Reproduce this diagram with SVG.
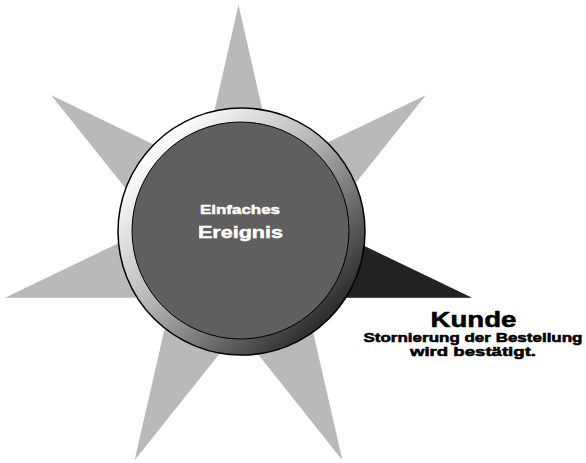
<svg xmlns="http://www.w3.org/2000/svg" width="586" height="463" viewBox="0 0 586 463">
<defs>
<linearGradient id="ring" x1="0.15" y1="0.15" x2="0.85" y2="0.85">
<stop offset="0" stop-color="#ffffff"/>
<stop offset="0.45" stop-color="#b4b4b4"/>
<stop offset="1" stop-color="#2c2c2c"/>
</linearGradient>
<style>
.lbl{font-family:"Liberation Sans",Arial,sans-serif;font-weight:bold;text-anchor:middle;stroke-linejoin:round}
.w{fill:#ffffff;stroke:#ffffff;stroke-width:0.45}
.k{fill:#000000;stroke:#000000;stroke-width:0.55}
</style>
</defs>
<rect width="586" height="463" fill="#ffffff"/>
<g id="star">
<polygon fill="#b9b9b9" points="238.5,5 275.55,167.56 425.75,95.17 321.76,225.5 472,297.79 305.27,297.75 342.41,460.28 238.5,329.9 134.59,460.28 171.73,297.75 5,297.79 155.24,225.5 51.25,95.17 201.45,167.56"/>
<polygon id="spike-kunde" fill="#222222" points="238.5,244.5 321.76,225.5 472,297.79 305.27,297.75"/>
</g>
<g id="event">
<circle cx="241.5" cy="231.5" r="123.5" fill="url(#ring)" stroke="#000" stroke-width="1.5"/>
<circle cx="240.5" cy="230.5" r="108.5" fill="#5f5f5f" stroke="#000" stroke-width="1"/>
<text class="lbl w" x="240" y="213.5" font-size="12.5" textLength="80" lengthAdjust="spacingAndGlyphs">Einfaches</text>
<text class="lbl w" x="240.5" y="238" font-size="16.5" textLength="85" lengthAdjust="spacingAndGlyphs">Ereignis</text>
</g>
<g id="kunde">
<text class="lbl k" x="473.5" y="326.5" font-size="22.5" textLength="86" lengthAdjust="spacingAndGlyphs">Kunde</text>
<text class="lbl k" x="473" y="341.5" font-size="13" textLength="219" lengthAdjust="spacingAndGlyphs">Stornierung der Bestellung</text>
<text class="lbl k" x="473" y="355.5" font-size="13" textLength="126" lengthAdjust="spacingAndGlyphs">wird bestätigt.</text>
</g>
</svg>
